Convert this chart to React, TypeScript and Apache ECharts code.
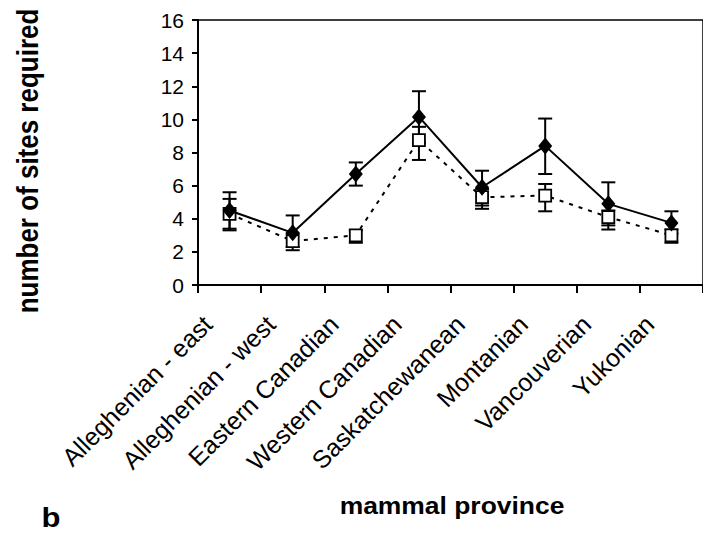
import React, { useEffect, useRef } from "react";
import * as echarts from "echarts";

const categories = [
  "Alleghenian - east",
  "Alleghenian - west",
  "Eastern Canadian",
  "Western Canadian",
  "Saskatchewanean",
  "Montanian",
  "Vancouverian",
  "Yukonian",
];
const solidMean = [4.5, 3.15, 6.7, 10.15, 5.9, 8.4, 4.9, 3.75];
const solidUpper = [5.6, 4.2, 7.4, 11.7, 6.9, 10.05, 6.2, 4.45];
const solidLower = [3.3, 2.3, 6.0, 8.6, 4.8, 6.7, 3.6, 3.1];
const dashMean = [4.3, 2.65, 3.0, 8.75, 5.3, 5.4, 4.1, 3.0];
const dashUpper = [5.2, 3.1, 3.3, 9.55, 5.8, 6.1, 4.5, 3.35];
const dashLower = [3.4, 2.1, 2.55, 7.55, 4.6, 4.45, 3.35, 2.55];

const FONT = "'Liberation Sans', Arial, sans-serif";

function errorSeries(upper: number[], lower: number[]) {
  return {
    type: "custom",
    z: 1,
    silent: true,
    data: upper.map((u, i) => [i, u, lower[i]]),
    renderItem: (params: any, api: any) => {
      const top = api.coord([api.value(0), api.value(1)]);
      const bot = api.coord([api.value(0), api.value(2)]);
      const hw = 7;
      const style = { stroke: "#000", lineWidth: 2 };
      return {
        type: "group",
        children: [
          { type: "line", shape: { x1: top[0], y1: top[1], x2: bot[0], y2: bot[1] }, style },
          { type: "line", shape: { x1: top[0] - hw, y1: top[1], x2: top[0] + hw, y2: top[1] }, style },
          { type: "line", shape: { x1: bot[0] - hw, y1: bot[1], x2: bot[0] + hw, y2: bot[1] }, style },
        ],
      };
    },
  };
}

export default function App() {
  const ref = useRef<HTMLDivElement>(null);
  useEffect(() => {
    document.body.style.margin = "0";
    const chart = echarts.init(ref.current!, null, { renderer: "svg" });
    chart.setOption({
      animation: false,
      backgroundColor: "#fff",
      textStyle: { fontFamily: FONT },
      grid: {
        left: 198,
        top: 20,
        width: 511,
        height: 265,
        show: true,
        borderColor: "#000",
        borderWidth: 1.5,
        backgroundColor: "transparent",
      },
      xAxis: {
        type: "category",
        data: categories,
        boundaryGap: true,
        axisLine: { lineStyle: { color: "#000", width: 2 } },
        axisTick: { show: true, length: 8, lineStyle: { color: "#000", width: 2 } },
        axisLabel: {
          rotate: 45,
          interval: 0,
          color: "#000",
          fontSize: 25,
          fontFamily: FONT,
          margin: 13,
          formatter: (v: string) => v + "{g|}",
          rich: { g: { width: 31, fontSize: 25 } },
        },
        splitLine: { show: false },
      },
      yAxis: {
        type: "value",
        min: 0,
        max: 16,
        interval: 2,
        axisLine: { show: true, lineStyle: { color: "#000", width: 2 } },
        axisTick: { show: true, length: 6, lineStyle: { color: "#000", width: 2 } },
        axisLabel: { color: "#000", fontSize: 21, fontFamily: FONT, margin: 14 },
        splitLine: { show: false },
      },
      graphic: [
        {
          type: "text",
          x: 28,
          y: 161,
          rotation: Math.PI / 2,
          scaleY: 1.15,
          style: {
            text: "number of sites required",
            font: `bold 26px ${FONT}`,
            fill: "#000",
            textAlign: "center",
            textVerticalAlign: "middle",
          },
        },
        {
          type: "text",
          x: 452,
          y: 506,
          scaleX: 1.15,
          style: {
            text: "mammal province",
            font: `bold 23px ${FONT}`,
            fill: "#000",
            textAlign: "center",
            textVerticalAlign: "middle",
          },
        },
        {
          type: "text",
          x: 51,
          y: 518,
          scaleX: 1.15,
          style: {
            text: "b",
            font: `bold 27px ${FONT}`,
            fill: "#000",
            textAlign: "center",
            textVerticalAlign: "middle",
          },
        },
      ],
      series: [
        errorSeries(dashUpper, dashLower),
        errorSeries(solidUpper, solidLower),
        {
          type: "line",
          data: dashMean,
          z: 3,
          symbol: "rect",
          symbolSize: 12,
          showAllSymbol: true,
          lineStyle: { color: "#000", width: 2, type: [4, 6] },
          itemStyle: { color: "#fff", borderColor: "#000", borderWidth: 1.8 },
        },
        {
          type: "line",
          data: solidMean,
          z: 4,
          symbol: "diamond",
          symbolSize: [14, 17],
          showAllSymbol: true,
          lineStyle: { color: "#000", width: 2, type: "solid" },
          itemStyle: { color: "#000", borderColor: "#000", borderWidth: 0 },
        },
      ],
    });
    return () => chart.dispose();
  }, []);
  return (
    <div
      ref={ref}
      style={{ position: "absolute", left: 0, top: 0, width: 703, height: 533 }}
    />
  );
}
